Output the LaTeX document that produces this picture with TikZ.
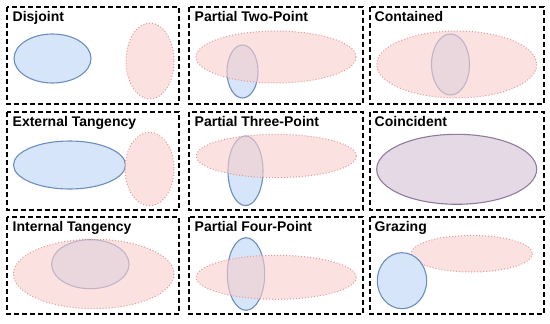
\documentclass[tikz,border=0pt]{standalone}
\usepackage{fontspec}
\setmainfont{Liberation Sans}
\definecolor{bluefill}{HTML}{D6E5FA}
\definecolor{bluedraw}{HTML}{6C8EBF}
\definecolor{pinkfill}{HTML}{F8CECC}
\definecolor{pinkdraw}{HTML}{E09A9A}
\definecolor{purpdraw}{HTML}{8E7BA0}
\definecolor{purpfill}{HTML}{E6D9E6}
\begin{document}
\begin{tikzpicture}[x=1pt,y=-1pt,
  panel/.style={draw=black,line width=1.4pt,dash pattern=on 5pt off 3pt},
  ttl/.style={anchor=base west,inner sep=0pt,font=\bfseries\fontsize{14}{16}\selectfont},
  blueell/.style={fill=bluefill,draw=bluedraw,line width=1.1pt},
  pinkell/.style={fill=pinkfill,fill opacity=0.6,draw=pinkdraw,draw opacity=1,dotted,line width=1pt},
  purpell/.style={fill=purpfill,draw=purpdraw,line width=1.1pt}]
\useasboundingbox (0,0) rectangle (550,324);
% panels
\draw[panel] (7,7) rectangle (179,104);
\draw[panel] (189,7) rectangle (363,104);
\draw[panel] (370,7) rectangle (544,104);
\draw[panel] (7,112) rectangle (179,210);
\draw[panel] (189,112) rectangle (363,210);
\draw[panel] (370,112) rectangle (544,210);
\draw[panel] (7,217) rectangle (179,314);
\draw[panel] (189,217) rectangle (363,314);
\draw[panel] (370,217) rectangle (544,314);
% titles
\node[ttl] (t1) at (12.5,21) {Disjoint};
\node[ttl] (t2) at (194.5,21) {Partial Two-Point};
\node[ttl] (t3) at (374.5,21) {Contained};
\node[ttl] (t4) at (12.5,126) {External Tangency};
\node[ttl] (t5) at (194.5,126) {Partial Three-Point};
\node[ttl] (t6) at (374.5,126) {Coincident};
\node[ttl] (t7) at (12.5,231) {Internal Tangency};
\node[ttl] (t8) at (194.5,231) {Partial Four-Point};
\node[ttl] (t9) at (374.5,231) {Grazing};
% Disjoint
\draw[blueell] (52.5,58.5) ellipse [x radius=38.5,y radius=24.5];
\draw[pinkell] (150,61) ellipse [x radius=24,y radius=38];
% Partial Two-Point
\draw[blueell] (242.5,71.5) ellipse [x radius=15.5,y radius=26.5];
\draw[pinkell] (276,57) ellipse [x radius=80,y radius=26];
% Contained
\draw[blueell] (450.5,64.5) ellipse [x radius=19,y radius=30.5];
\draw[pinkell] (456.7,64.5) ellipse [x radius=80,y radius=33.5];
% External Tangency
\draw[blueell] (69.5,165) ellipse [x radius=56,y radius=24];
\draw[pinkell] (149.5,169) ellipse [x radius=24.5,y radius=36.7];
% Partial Three-Point
\draw[blueell] (245.5,170.8) ellipse [x radius=17.5,y radius=34.8];
\draw[pinkell] (276.3,156) ellipse [x radius=80,y radius=21.7];
% Coincident
\draw[purpell] (456.7,169.3) ellipse [x radius=80,y radius=35];
% Internal Tangency
\draw[blueell] (90.3,264.2) ellipse [x radius=38.7,y radius=24.5];
\draw[pinkell] (93.7,274) ellipse [x radius=80.3,y radius=34.7];
% Partial Four-Point
\draw[blueell] (246,274) ellipse [x radius=18.7,y radius=36.3];
\draw[pinkell] (276.3,277.3) ellipse [x radius=80,y radius=22];
% Grazing
\draw[pinkell] (471.7,253.7) ellipse [x radius=60.7,y radius=18.3];
\draw[blueell] (402,280.7) ellipse [x radius=24.7,y radius=28];
\end{tikzpicture}
\end{document}
